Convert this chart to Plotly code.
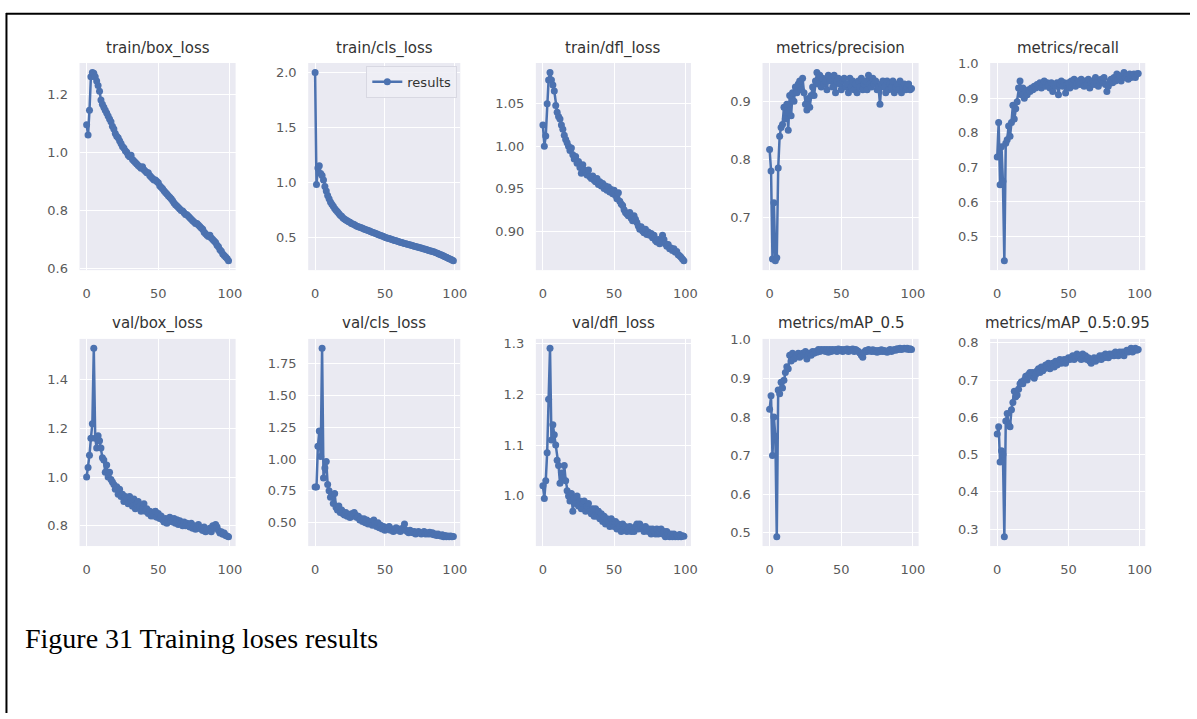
import plotly.graph_objects as go

epochs = list(range(100))

titles = ["train/box_loss", "train/cls_loss", "train/dfl_loss", "metrics/precision", "metrics/recall",
          "val/box_loss", "val/cls_loss", "val/dfl_loss", "metrics/mAP_0.5", "metrics/mAP_0.5:0.95"]

train_box_loss = [1.095, 1.06, 1.145, 1.26, 1.275, 1.272, 1.26, 1.245, 1.23, 1.21,
                  1.18, 1.165, 1.155, 1.145, 1.135, 1.125, 1.115, 1.105, 1.09, 1.08,
                  1.065, 1.055, 1.05, 1.04, 1.03, 1.02, 1.015, 1.005, 1.0, 0.99,
                  0.985, 0.99, 0.975, 0.97, 0.965, 0.96, 0.955, 0.95, 0.945, 0.95,
                  0.94, 0.935, 0.93, 0.93, 0.92, 0.915, 0.91, 0.905, 0.905, 0.9,
                  0.895, 0.885, 0.88, 0.875, 0.868, 0.862, 0.857, 0.851, 0.845, 0.84,
                  0.833, 0.826, 0.82, 0.815, 0.81, 0.805, 0.8, 0.798, 0.792, 0.786,
                  0.785, 0.78, 0.775, 0.77, 0.765, 0.76, 0.755, 0.755, 0.75, 0.745,
                  0.74, 0.735, 0.725, 0.72, 0.715, 0.71, 0.715, 0.705, 0.70, 0.695,
                  0.69, 0.68, 0.675, 0.665, 0.66, 0.65, 0.645, 0.64, 0.635, 0.627]

train_cls_loss = [2.0, 0.98, 1.13, 1.15, 1.08, 1.06, 1.02, 0.96, 0.92, 0.88,
                  0.85, 0.82, 0.8, 0.78, 0.76, 0.745, 0.73, 0.715, 0.7, 0.69,
                  0.675, 0.665, 0.655, 0.65, 0.64, 0.635, 0.625, 0.62, 0.615, 0.605,
                  0.6, 0.595, 0.59, 0.585, 0.58, 0.575, 0.57, 0.565, 0.56, 0.555,
                  0.55, 0.545, 0.54, 0.535, 0.53, 0.525, 0.52, 0.515, 0.51, 0.505,
                  0.5, 0.495, 0.49, 0.487, 0.483, 0.478, 0.474, 0.47, 0.466, 0.462,
                  0.458, 0.454, 0.45, 0.447, 0.443, 0.44, 0.436, 0.432, 0.428, 0.425,
                  0.421, 0.417, 0.414, 0.41, 0.407, 0.403, 0.4, 0.396, 0.392, 0.389,
                  0.385, 0.381, 0.377, 0.373, 0.37, 0.366, 0.36, 0.356, 0.35, 0.345,
                  0.34, 0.334, 0.328, 0.322, 0.316, 0.31, 0.304, 0.298, 0.292, 0.285]

train_dfl_loss = [1.025, 1.00, 1.012, 1.05, 1.078, 1.087, 1.078, 1.072, 1.065, 1.048,
                  1.04, 1.035, 1.032, 1.025, 1.02, 1.013, 1.008, 1.004, 1.0, 0.995,
                  0.998, 0.99, 0.985, 0.988, 0.98, 0.982, 0.975, 0.968, 0.978, 0.972,
                  0.97, 0.966, 0.972, 0.964, 0.962, 0.965, 0.96, 0.958, 0.962, 0.955,
                  0.958, 0.953, 0.956, 0.95, 0.953, 0.948, 0.952, 0.946, 0.949, 0.944,
                  0.948, 0.942, 0.938, 0.945, 0.935, 0.932, 0.93, 0.925, 0.922, 0.92,
                  0.918, 0.922, 0.915, 0.912, 0.918, 0.914, 0.91, 0.906, 0.902, 0.905,
                  0.9, 0.898, 0.902, 0.896, 0.899, 0.895, 0.897, 0.892, 0.895, 0.889,
                  0.887, 0.89, 0.885, 0.888, 0.895, 0.89, 0.885, 0.882, 0.884, 0.879,
                  0.88, 0.877, 0.879, 0.875, 0.876, 0.872, 0.871, 0.869, 0.867, 0.865]

precision = [0.817, 0.78, 0.628, 0.725, 0.625, 0.63, 0.785, 0.84, 0.855, 0.86,
             0.89, 0.87, 0.895, 0.85, 0.91, 0.875, 0.915, 0.9, 0.925, 0.915,
             0.93, 0.935, 0.92, 0.94, 0.915, 0.895, 0.885, 0.905, 0.89, 0.91,
             0.925, 0.91, 0.935, 0.95, 0.93, 0.945, 0.925, 0.94, 0.93, 0.935,
             0.92, 0.945, 0.935, 0.94, 0.925, 0.945, 0.915, 0.935, 0.94, 0.93,
             0.92, 0.935, 0.94, 0.925, 0.93, 0.915, 0.94, 0.925, 0.935, 0.92,
             0.93, 0.915, 0.935, 0.925, 0.94, 0.92, 0.93, 0.935, 0.92, 0.945,
             0.93, 0.925, 0.94, 0.93, 0.935, 0.92, 0.925, 0.895, 0.93, 0.935,
             0.925, 0.915, 0.935, 0.92, 0.93, 0.925, 0.935, 0.915, 0.925, 0.93,
             0.92, 0.935, 0.915, 0.925, 0.93, 0.92, 0.925, 0.93, 0.92, 0.922]

recall = [0.73, 0.83, 0.65, 0.76, 0.66, 0.43, 0.77, 0.78, 0.82, 0.79,
          0.83, 0.88, 0.84, 0.87, 0.89, 0.93, 0.95, 0.91, 0.93, 0.9,
          0.92, 0.91, 0.925, 0.92, 0.93, 0.925, 0.935, 0.93, 0.94, 0.935,
          0.945, 0.93, 0.94, 0.95, 0.935, 0.945, 0.94, 0.93, 0.945, 0.92,
          0.94, 0.935, 0.945, 0.91, 0.94, 0.95, 0.935, 0.945, 0.915, 0.94,
          0.945, 0.93, 0.95, 0.94, 0.955, 0.935, 0.945, 0.95, 0.94, 0.955,
          0.945, 0.935, 0.95, 0.94, 0.955, 0.93, 0.945, 0.95, 0.94, 0.96,
          0.945, 0.935, 0.95, 0.955, 0.945, 0.96, 0.94, 0.92, 0.935, 0.95,
          0.955, 0.945, 0.96, 0.95, 0.97, 0.955, 0.965, 0.95, 0.96, 0.975,
          0.96, 0.965, 0.955, 0.97, 0.96, 0.965, 0.97, 0.96, 0.97, 0.972]

val_box_loss = [1.0, 1.04, 1.09, 1.16, 1.22, 1.53, 1.16, 1.12, 1.17, 1.15,
                1.12, 1.08, 1.07, 1.02, 1.05, 1.0, 1.02, 0.99, 0.98, 0.97,
                0.95, 0.96, 0.93, 0.95, 0.92, 0.93, 0.9, 0.92, 0.91, 0.89,
                0.92, 0.9, 0.88, 0.91, 0.87, 0.89, 0.9, 0.88, 0.86, 0.87,
                0.89, 0.86, 0.87, 0.85, 0.86, 0.84, 0.855, 0.84, 0.86, 0.835,
                0.85, 0.83, 0.84, 0.825, 0.815, 0.83, 0.81, 0.82, 0.835, 0.82,
                0.815, 0.83, 0.81, 0.825, 0.805, 0.82, 0.81, 0.8, 0.815, 0.8,
                0.81, 0.8, 0.795, 0.81, 0.79, 0.8, 0.785, 0.79, 0.805, 0.79,
                0.785, 0.78, 0.795, 0.775, 0.785, 0.78, 0.79, 0.775, 0.8, 0.79,
                0.805, 0.795, 0.78, 0.77, 0.775, 0.765, 0.77, 0.76, 0.758, 0.755]

val_cls_loss = [0.78, 0.78, 1.1, 1.22, 1.02, 1.87, 0.85, 0.93, 0.98, 0.8,
                0.75, 0.7, 0.72, 0.65, 0.73, 0.62, 0.6, 0.63, 0.58, 0.6,
                0.57, 0.56, 0.58, 0.55, 0.56, 0.54, 0.57, 0.55, 0.58, 0.56,
                0.54, 0.55, 0.52, 0.53, 0.51, 0.53, 0.5, 0.52, 0.49, 0.51,
                0.5, 0.48, 0.52, 0.49, 0.47, 0.5, 0.46, 0.48, 0.45, 0.47,
                0.44, 0.46, 0.45, 0.47, 0.44, 0.45, 0.43, 0.44, 0.46, 0.44,
                0.45, 0.43, 0.44, 0.46, 0.49, 0.44, 0.43, 0.42, 0.44, 0.43,
                0.42, 0.43, 0.41, 0.42, 0.43, 0.42, 0.41, 0.42, 0.43, 0.41,
                0.42, 0.41, 0.425, 0.41, 0.42, 0.405, 0.41, 0.4, 0.41, 0.4,
                0.395, 0.405, 0.39, 0.4, 0.39, 0.395, 0.39, 0.395, 0.39, 0.392]

val_dfl_loss = [1.02, 0.995, 1.03, 1.085, 1.19, 1.29, 1.11, 1.14, 1.12, 1.1,
                1.07, 1.06, 1.025, 1.045, 1.035, 1.06, 1.03, 1.01, 1.0, 0.99,
                1.005, 0.97, 0.995, 0.985, 1.0, 0.98, 0.99, 0.975, 0.985, 0.99,
                0.97, 0.98, 0.985, 0.97, 0.965, 0.975, 0.96, 0.975, 0.96, 0.97,
                0.955, 0.965, 0.95, 0.96, 0.945, 0.955, 0.95, 0.94, 0.955, 0.945,
                0.94, 0.95, 0.935, 0.945, 0.94, 0.93, 0.945, 0.935, 0.94, 0.93,
                0.935, 0.94, 0.93, 0.935, 0.93, 0.94, 0.945, 0.935, 0.945, 0.94,
                0.935, 0.93, 0.94, 0.935, 0.93, 0.935, 0.925, 0.935, 0.93, 0.925,
                0.935, 0.925, 0.93, 0.935, 0.925, 0.93, 0.92, 0.93, 0.925, 0.92,
                0.925, 0.92, 0.925, 0.92, 0.922, 0.92, 0.924, 0.92, 0.922, 0.921]

map50 = [0.82, 0.855, 0.70, 0.80, 0.75, 0.49, 0.87, 0.86, 0.89, 0.875,
         0.895, 0.915, 0.93, 0.925, 0.96, 0.945, 0.965, 0.95, 0.955, 0.96,
         0.965, 0.955, 0.96, 0.965, 0.96, 0.97, 0.95, 0.96, 0.965, 0.96,
         0.97, 0.965, 0.97, 0.968, 0.975, 0.97, 0.975, 0.972, 0.975, 0.97,
         0.975, 0.968, 0.975, 0.97, 0.975, 0.972, 0.975, 0.97, 0.976, 0.972,
         0.975, 0.97, 0.975, 0.972, 0.976, 0.97, 0.975, 0.973, 0.976, 0.97,
         0.975, 0.972, 0.97, 0.966, 0.96, 0.955, 0.968, 0.972, 0.97, 0.975,
         0.972, 0.97, 0.974, 0.97, 0.972, 0.968, 0.972, 0.97, 0.974, 0.97,
         0.972, 0.97, 0.968, 0.972, 0.975, 0.97, 0.972, 0.975, 0.973, 0.977,
         0.975, 0.978, 0.975, 0.977, 0.978, 0.976, 0.978, 0.975, 0.977, 0.975]

map50_95 = [0.555, 0.575, 0.48, 0.51, 0.50, 0.28, 0.59, 0.61, 0.58, 0.575,
            0.62, 0.64, 0.67, 0.655, 0.66, 0.675, 0.69, 0.695, 0.69, 0.70,
            0.71, 0.70, 0.715, 0.72, 0.71, 0.72, 0.705, 0.715, 0.725, 0.73,
            0.72, 0.735, 0.725, 0.73, 0.74, 0.735, 0.745, 0.73, 0.74, 0.745,
            0.735, 0.75, 0.74, 0.745, 0.755, 0.745, 0.75, 0.755, 0.745, 0.755,
            0.76, 0.755, 0.76, 0.765, 0.755, 0.76, 0.77, 0.76, 0.765, 0.755,
            0.77, 0.76, 0.765, 0.755, 0.76, 0.75, 0.745, 0.755, 0.76, 0.75,
            0.755, 0.76, 0.765, 0.755, 0.765, 0.76, 0.77, 0.765, 0.76, 0.77,
            0.765, 0.77, 0.765, 0.775, 0.77, 0.765, 0.775, 0.77, 0.775, 0.765,
            0.775, 0.78, 0.775, 0.78, 0.785, 0.775, 0.78, 0.785, 0.78, 0.782]

series = [train_box_loss, train_cls_loss, train_dfl_loss, precision, recall,
          val_box_loss, val_cls_loss, val_dfl_loss, map50, map50_95]
y_dticks = [0.2, 0.5, 0.05, 0.1, 0.1, 0.2, 0.25, 0.1, 0.1, 0.1]
y_formats = [".1f", ".1f", ".2f", ".1f", ".1f", ".1f", ".2f", ".1f", ".1f", ".1f"]
x_ticks = [0, 50, 100]

W, H = 1197, 719
col_px = [(80, 237), (310, 463), (539, 695), (767, 924), (996, 1152)]
row_px = [(57, 268), (338, 549)]
title_py = [42, 322]

BLUE = "#4C72B0"
fig = go.Figure()
annotations = []
layout = {}
for i, (ttl, ys) in enumerate(zip(titles, series)):
    r, c = divmod(i, 5)
    n = i + 1
    xa = "x" if n == 1 else f"x{n}"
    ya = "y" if n == 1 else f"y{n}"
    fig.add_trace(go.Scatter(
        x=epochs, y=ys, mode="lines+markers", name="results",
        line=dict(color=BLUE, width=2.5), marker=dict(color=BLUE, size=7),
        showlegend=(i == 1), xaxis=xa, yaxis=ya))
    ymin, ymax = min(ys), max(ys)
    pad = 0.05 * (ymax - ymin)
    x0, x1 = col_px[c]
    y0, y1 = row_px[r]
    common = dict(showgrid=True, gridcolor="white", gridwidth=1.2, zeroline=False,
                  showline=False, ticks="outside", tickcolor="rgba(0,0,0,0)",
                  tickfont=dict(family="DejaVu Sans", size=13, color="#5a5a5a"))
    layout[f"xaxis{n}"] = dict(domain=[x0 / W, x1 / W], anchor=ya, range=[-4.95, 103.95],
                               tickvals=x_ticks, ticklen=11, **common)
    layout[f"yaxis{n}"] = dict(domain=[1 - y1 / H, 1 - y0 / H], anchor=xa,
                               range=[ymin - pad, ymax + pad], dtick=y_dticks[i],
                               tick0=0, tickformat=y_formats[i], ticklen=8, **common)
    annotations.append(dict(text=ttl, x=(x0 + x1) / 2 / W, y=1 - title_py[r] / H,
                            xref="paper", yref="paper", showarrow=False,
                            xanchor="center", yanchor="middle",
                            font=dict(family="DejaVu Sans", size=15, color="#333333")))

annotations.append(dict(text="Figure 31 Training loses results", x=23 / W, y=1 - 643 / H,
                        xref="paper", yref="paper", showarrow=False,
                        xanchor="left", yanchor="middle",
                        font=dict(family="Liberation Serif", size=28, color="black")))

shapes = [
    dict(type="line", xref="paper", yref="paper", x0=6.5 / W, x1=6.5 / W, y0=0, y1=1 - 6 / H,
         line=dict(color="black", width=2)),
    dict(type="line", xref="paper", yref="paper", x0=6 / W, x1=1, y0=1 - 7 / H, y1=1 - 7 / H,
         line=dict(color="black", width=2)),
]

fig.update_layout(
    width=W, height=H, autosize=False,
    margin=dict(l=0, r=0, t=0, b=0),
    paper_bgcolor="white", plot_bgcolor="#EAEAF2",
    annotations=annotations, shapes=shapes,
    legend=dict(x=460 / W, y=1 - 60 / H, xanchor="right", yanchor="top",
                bgcolor="rgba(238,238,245,0.9)", bordercolor="#D8D8E2", borderwidth=1,
                font=dict(family="DejaVu Sans", size=13, color="#333333")),
    **layout,
)

fig.write_html("out.html", config={"displayModeBar": False},
               post_script="document.body.style.margin='0';document.body.style.padding='0';")
